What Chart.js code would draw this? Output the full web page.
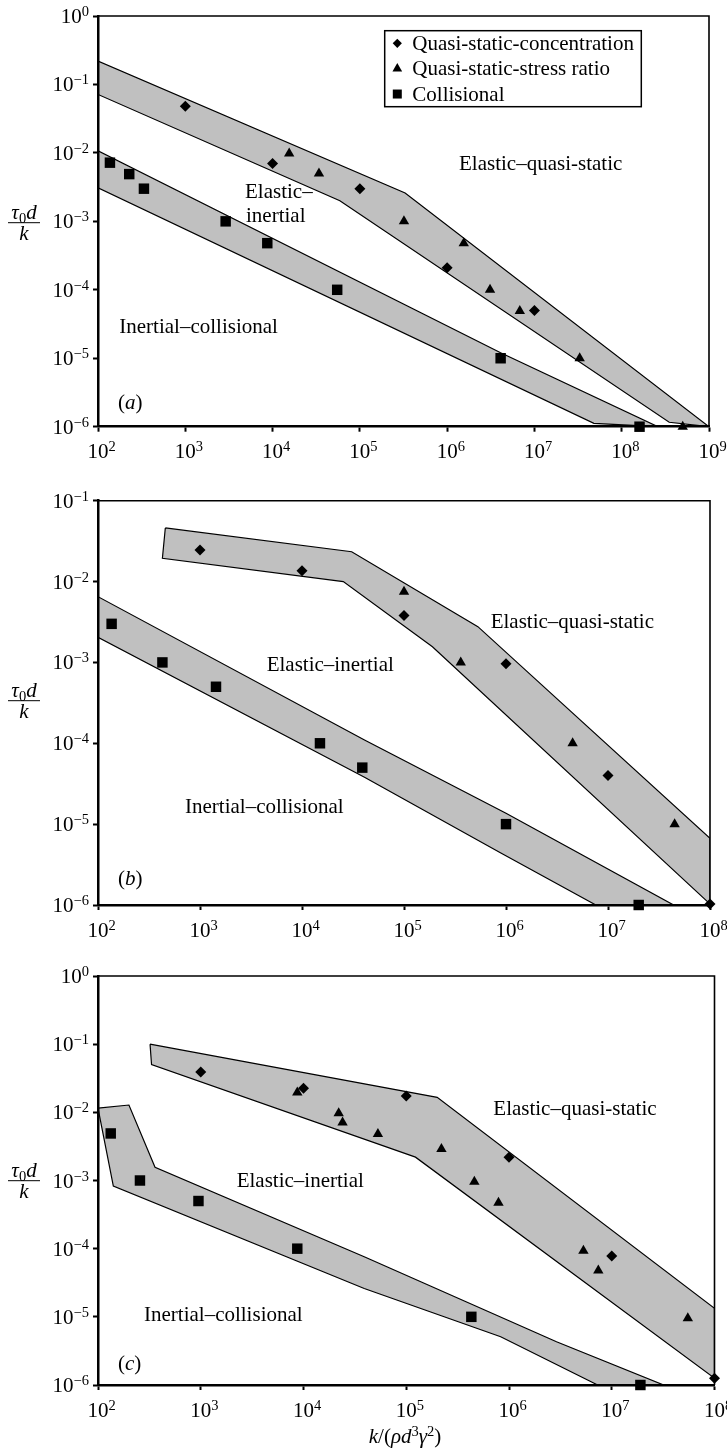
<!DOCTYPE html>
<html>
<head>
<meta charset="utf-8">
<script src="https://cdn.jsdelivr.net/npm/chart.js@4.4.1/dist/chart.umd.min.js"></script>
<style>
  body { margin: 0; background: #fff; width: 727px; height: 1454px; position: relative; overflow: hidden; }
  canvas { position: absolute; left: 0; }
</style>
</head>
<body>
<canvas id="chartA" width="727" height="480" style="top:0"></canvas>
<canvas id="chartB" width="727" height="480" style="top:480px"></canvas>
<canvas id="chartC" width="727" height="494" style="top:960px"></canvas>
<script>
/* ---- panel (a) ---- */
const A_X_TICKS = [1e2, 1e3, 1e4, 1e5, 1e6, 1e7, 1e8, 1e9];
const A_Y_TICKS = [1e-6, 1e-5, 1e-4, 1e-3, 1e-2, 1e-1, 1];
const A_CONC_X = [1e3, 1e4, 1e5, 1e6, 1e7];
const A_CONC_Y = [0.048, 0.007, 0.003, 2.1e-4, 5e-5];
const A_STRESS_X = [1.55e4, 3.4e4, 3.2e5, 1.55e6, 3.1e6, 6.8e6, 3.3e7, 5e8];
const A_STRESS_Y = [0.0098, 0.005, 0.001, 4.8e-4, 1e-4, 4.9e-5, 1e-5, 1e-6];
const A_COLL_X = [137, 228, 336, 2900, 8700, 5.5e4, 4.1e6, 1.6e8];
const A_COLL_Y = [0.0072, 0.0049, 0.003, 0.001, 4.8e-4, 1e-4, 1e-5, 1e-6];
const A_QS_BAND_X = [100, 3.3e5, 1e9, 3.5e8, 5.9e4, 100];
const A_QS_BAND_Y = [0.22, 0.0026, 1e-6, 1.16e-6, 0.002, 0.0714];
const A_COLL_BAND_X = [100, 4.1e6, 2.6e8, 4.8e7, 100];
const A_COLL_BAND_Y = [0.0107, 1.2e-5, 1e-6, 1.12e-6, 0.0031];

/* ---- panel (b) ---- */
const B_X_TICKS = [1e2, 1e3, 1e4, 1e5, 1e6, 1e7, 1e8];
const B_Y_TICKS = [1e-6, 1e-5, 1e-4, 1e-3, 1e-2, 1e-1];
const B_CONC_X = [1e3, 1e4, 1e5, 1e6, 1e7, 1e8];
const B_CONC_Y = [0.0245, 0.0136, 0.0038, 9.6e-4, 4e-5, 1.03e-6];
const B_STRESS_X = [1e5, 3.6e5, 4.5e6, 4.5e7];
const B_STRESS_Y = [0.0075, 0.001, 1e-4, 1e-5];
const B_COLL_X = [136, 428, 1435, 1.5e4, 3.9e4, 1e6, 2e7];
const B_COLL_Y = [0.003, 0.001, 5e-4, 1e-4, 5e-5, 1e-5, 1e-6];
const B_QS_BAND_X = [457, 3.07e4, 5.3e5, 1e8, 1e8, 1.9e5, 2.54e4, 428];
const B_QS_BAND_Y = [0.046, 0.0234, 2.77e-3, 6.7e-6, 1.03e-6, 1.56e-3, 0.01, 0.0194];
const B_COLL_BAND_X = [100, 4.1e4, 1e6, 4.4e7, 7.6e6, 8.9e5, 4.1e4, 100];
const B_COLL_BAND_Y = [6.5e-3, 1.1e-4, 1.36e-5, 1e-6, 1e-6, 4.4e-6, 3.8e-5, 2.04e-3];

/* ---- panel (c) ---- */
const C_X_TICKS = [1e2, 1e3, 1e4, 1e5, 1e6, 1e7, 1e8];
const C_Y_TICKS = [1e-6, 1e-5, 1e-4, 1e-3, 1e-2, 1e-1, 1];
const C_CONC_X = [1e3, 1e4, 1e5, 1e6, 1e7, 1e8];
const C_CONC_Y = [0.039, 0.0225, 0.0174, 2.2e-3, 7.8e-5, 1.26e-6];
const C_STRESS_X = [8.7e3, 2.2e4, 2.4e4, 5.3e4, 2.2e5, 4.6e5, 7.9e5, 5.3e6, 7.4e6, 5.5e7];
const C_STRESS_Y = [0.0195, 0.0097, 0.0071, 0.0048, 0.0029, 9.6e-4, 4.7e-4, 9.3e-5, 4.8e-5, 9.5e-6];
const C_COLL_X = [133, 256, 950, 8.7e3, 4.3e5, 1.9e7];
const C_COLL_Y = [0.0049, 0.001, 5e-4, 1e-4, 1e-5, 1e-6];
const C_QS_BAND_X = [321, 2e5, 1e8, 1e8, 1.23e5, 332];
const C_QS_BAND_Y = [0.1, 0.0166, 1.33e-5, 1.26e-6, 2.2e-3, 0.05];
const C_COLL_BAND_X = [100, 200, 359, 3.9e4, 2.9e6, 3.2e7, 7.3e6, 8.3e5, 3.9e4, 141];
const C_COLL_BAND_Y = [0.0115, 0.0128, 1.56e-3, 7.6e-5, 4.3e-6, 1e-6, 1e-6, 5.1e-6, 2.6e-5, 8.3e-4];

const LEGEND_LABELS = ["Quasi-static-concentration", "Quasi-static-stress ratio", "Collisional"];

const SERIF = '"Liberation Serif", "Times New Roman", Times, serif';
const BAND_GREY = "#c0c0c0";

// text placement per panel (canvas coordinates)
const DECO = {
  chartA: {
    fracY: 222.7,
    labels: [["Elastic–quasi-static", 459, 169.5], ["Elastic–", 245, 197.5], ["inertial", 246, 221.5], ["Inertial–collisional", 119.3, 332.7]],
    tag: ["a", 118, 409],
    legend: { left: 384.7, top: 30.7, right: 641.3, bottom: 106.7 },
  },
  chartB: {
    fracY: 220.7,
    labels: [["Elastic–quasi-static", 490.7, 148.3], ["Elastic–inertial", 266.7, 190.5], ["Inertial–collisional", 185, 333]],
    tag: ["b", 118, 405],
  },
  chartC: {
    fracY: 220.7,
    labels: [["Elastic–quasi-static", 493.3, 155], ["Elastic–inertial", 236.7, 226.5], ["Inertial–collisional", 144, 360.5]],
    tag: ["c", 118, 410],
    xTitle: [405, 483],
  },
};

function font(size, italic) {
  return (italic ? "italic " : "") + size + "px " + SERIF;
}

// parts: [text, size, italic, dy]
function drawRich(ctx, parts, x, y, align) {
  let w = 0;
  parts.forEach((p) => { ctx.font = font(p[1], p[2]); w += ctx.measureText(p[0]).width; });
  let cx = align === "right" ? x - w : align === "center" ? x - w / 2 : x;
  parts.forEach((p) => {
    ctx.font = font(p[1], p[2]);
    ctx.fillText(p[0], cx, y + (p[3] || 0));
    cx += ctx.measureText(p[0]).width;
  });
  return w;
}

function expText(v) {
  return String(Math.round(Math.log10(v))).replace("-", "\u2212");
}

function legendMarker(ctx, kind, x, y) {
  ctx.beginPath();
  if (kind === 0) {
    const r = 4.6;
    ctx.moveTo(x - r, y); ctx.lineTo(x, y - r); ctx.lineTo(x + r, y); ctx.lineTo(x, y + r);
  } else if (kind === 1) {
    const r = 5.6;
    ctx.moveTo(x, y - r); ctx.lineTo(x + r * 0.866, y + r / 2); ctx.lineTo(x - r * 0.866, y + r / 2);
  } else {
    ctx.rect(x - 4.5, y - 4.5, 9, 9);
  }
  ctx.closePath();
  ctx.fill();
}

const decoPlugin = {
  id: "deco",
  afterDraw(chart) {
    const d = DECO[chart.canvas.id];
    const ctx = chart.ctx;
    const a = chart.chartArea;
    const xs = chart.scales.x;
    const ys = chart.scales.y;
    ctx.save();
    ctx.fillStyle = "#000";
    ctx.strokeStyle = "#000";
    ctx.textBaseline = "alphabetic";
    ctx.textAlign = "left";

    // top and right frame
    ctx.lineWidth = 1.6;
    ctx.beginPath();
    ctx.moveTo(a.left, a.top);
    ctx.lineTo(a.right, a.top);
    ctx.lineTo(a.right, a.bottom);
    ctx.stroke();

    // tick labels with superscript exponents
    xs.ticks.forEach((t) => {
      const px = xs.getPixelForValue(t.value);
      ctx.font = font(21);
      const w10 = ctx.measureText("10").width;
      drawRich(ctx, [["10", 21], [expText(t.value), 14.5, false, -7]], px - w10 / 2, a.bottom + 31.5, "left");
    });
    ys.ticks.forEach((t) => {
      const py = ys.getPixelForValue(t.value);
      drawRich(ctx, [["10", 21], [expText(t.value), 14.5, false, -7]], a.left - 9, py + 7, "right");
    });

    // y title as a fraction
    const fx = 24;
    drawRich(ctx, [["τ", 21, true], ["0", 14.5, false, 4], ["d", 21, true]], fx, d.fracY - 4, "center");
    ctx.lineWidth = 1;
    ctx.beginPath();
    ctx.moveTo(8, d.fracY);
    ctx.lineTo(40, d.fracY);
    ctx.stroke();
    drawRich(ctx, [["k", 21, true]], fx, d.fracY + 17, "center");

    // region labels
    ctx.font = font(21);
    d.labels.forEach((l) => ctx.fillText(l[0], l[1], l[2]));
    drawRich(ctx, [["(", 21], [d.tag[0], 21, true], [")", 21]], d.tag[1], d.tag[2], "left");

    if (d.xTitle) {
      drawRich(ctx, [["k", 21, true], ["/(", 21], ["ρ", 21, true], ["d", 21, true], ["3", 14.5, false, -7],
        ["γ", 21, true], ["2", 14.5, false, -7], [")", 21]], d.xTitle[0], d.xTitle[1], "center");
    }

    if (d.legend) {
      const L = d.legend;
      ctx.lineWidth = 1.5;
      ctx.strokeRect(L.left, L.top, L.right - L.left, L.bottom - L.top);
      const rowH = (L.bottom - L.top) / 3;
      ctx.font = font(21);
      LEGEND_LABELS.forEach((txt, i) => {
        const cy = L.top + rowH * (i + 0.5);
        legendMarker(ctx, i, L.left + 12.6, cy);
        ctx.fillText(txt, L.left + 27.6, cy + 6.5);
      });
    }
    ctx.restore();
  },
};

function pts(xs, ys) {
  return xs.map((x, i) => ({ x: x, y: ys[i] }));
}

function markers(xs, ys, style, r) {
  return {
    type: "scatter",
    data: pts(xs, ys),
    pointStyle: style,
    pointRadius: r,
    pointHoverRadius: r,
    backgroundColor: "#000",
    borderColor: "#000",
    borderWidth: 0,
    showLine: false,
    clip: false,
    order: 0,
  };
}

function band(xs, ys) {
  const data = pts(xs, ys);
  data.push({ x: xs[0], y: ys[0] });
  return {
    type: "line",
    data: data,
    fill: "shape",
    backgroundColor: BAND_GREY,
    borderColor: "#000",
    borderWidth: 1.2,
    pointRadius: 0,
    pointHoverRadius: 0,
    tension: 0,
    order: 1,
  };
}

function makePanel(id, p) {
  new Chart(document.getElementById(id), {
    type: "scatter",
    data: {
      datasets: [
        markers(p.concX, p.concY, "rectRot", 5.5),
        markers(p.stressX, p.stressY, "triangle", 6),
        markers(p.collX, p.collY, "rect", 7.4),
        band(p.qsBandX, p.qsBandY),
        band(p.collBandX, p.collBandY),
      ],
    },
    options: {
      responsive: false,
      animation: false,
      events: [],
      layout: { padding: p.padding },
      plugins: { legend: { display: false }, tooltip: { enabled: false } },
      scales: {
        x: {
          type: "logarithmic",
          position: "bottom",
          min: p.xTicks[0],
          max: p.xTicks[p.xTicks.length - 1],
          afterBuildTicks: (s) => { s.ticks = p.xTicks.map((v) => ({ value: v })); },
          afterFit: (s) => { s.height = 40; },
          ticks: { display: false },
          grid: { drawOnChartArea: false, drawTicks: true, tickLength: 5, tickWidth: 2, tickColor: "#000" },
          border: { display: true, color: "#000", width: 2.5, z: 1 },
        },
        y: {
          type: "logarithmic",
          position: "left",
          min: p.yTicks[0],
          max: p.yTicks[p.yTicks.length - 1],
          afterBuildTicks: (s) => { s.ticks = p.yTicks.map((v) => ({ value: v })); },
          afterFit: (s) => { s.width = 98; },
          ticks: { display: false },
          grid: { drawOnChartArea: false, drawTicks: true, tickLength: 5, tickWidth: 2, tickColor: "#000" },
          border: { display: true, color: "#000", width: 2.5, z: 1 },
        },
      },
    },
    plugins: [decoPlugin],
  });
}

makePanel("chartA", {
  xTicks: A_X_TICKS, yTicks: A_Y_TICKS,
  concX: A_CONC_X, concY: A_CONC_Y, stressX: A_STRESS_X, stressY: A_STRESS_Y, collX: A_COLL_X, collY: A_COLL_Y,
  qsBandX: A_QS_BAND_X, qsBandY: A_QS_BAND_Y, collBandX: A_COLL_BAND_X, collBandY: A_COLL_BAND_Y,
  padding: { top: 16, left: 0, right: 18, bottom: 13.3 },
});
makePanel("chartB", {
  xTicks: B_X_TICKS, yTicks: B_Y_TICKS,
  concX: B_CONC_X, concY: B_CONC_Y, stressX: B_STRESS_X, stressY: B_STRESS_Y, collX: B_COLL_X, collY: B_COLL_Y,
  qsBandX: B_QS_BAND_X, qsBandY: B_QS_BAND_Y, collBandX: B_COLL_BAND_X, collBandY: B_COLL_BAND_Y,
  padding: { top: 20.7, left: 0, right: 17, bottom: 15 },
});
makePanel("chartC", {
  xTicks: C_X_TICKS, yTicks: C_Y_TICKS,
  concX: C_CONC_X, concY: C_CONC_Y, stressX: C_STRESS_X, stressY: C_STRESS_Y, collX: C_COLL_X, collY: C_COLL_Y,
  qsBandX: C_QS_BAND_X, qsBandY: C_QS_BAND_Y, collBandX: C_COLL_BAND_X, collBandY: C_COLL_BAND_Y,
  padding: { top: 16, left: 0, right: 12.5, bottom: 29 },
});
</script>
</body>
</html>
